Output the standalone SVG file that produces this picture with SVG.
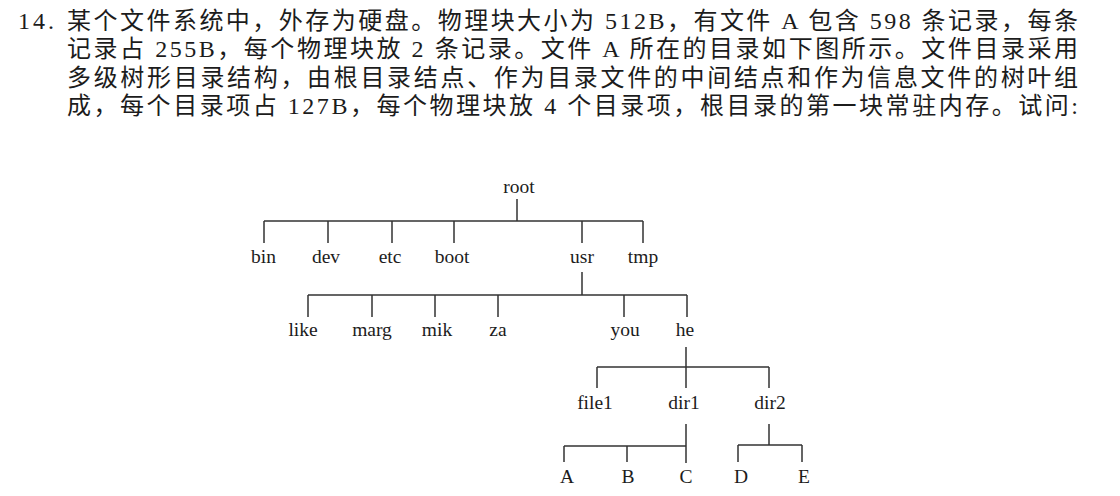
<svg xmlns="http://www.w3.org/2000/svg" width="1120" height="496" viewBox="0 0 1120 496">
<style>
  .para { font-family: "Liberation Serif", "Noto Sans CJK SC", serif; font-size: 24px; fill: #1c1c1c; }
  .lbl { font-family: "Liberation Serif", serif; font-size: 19.5px; fill: #1c1c1c; text-anchor: middle; }
  .conn { fill: none; stroke: #333; stroke-width: 1.5; }
</style>
<rect x="0" y="0" width="1120" height="496" fill="#ffffff"/>
<g id="question">
  <text class="para" x="18" y="29" letter-spacing="3">14.</text>
  <text class="para" x="67" y="29" textLength="1011" lengthAdjust="spacing">某个文件系统中，外存为硬盘。物理块大小为 512B，有文件 A 包含 598 条记录，每条</text>
  <text class="para" x="67" y="57" textLength="1011" lengthAdjust="spacing">记录占 255B，每个物理块放 2 条记录。文件 A 所在的目录如下图所示。文件目录采用</text>
  <text class="para" x="67" y="86" textLength="1011" lengthAdjust="spacing">多级树形目录结构，由根目录结点、作为目录文件的中间结点和作为信息文件的树叶组</text>
  <text class="para" x="67" y="114" textLength="1011" lengthAdjust="spacing">成，每个目录项占 127B，每个物理块放 4 个目录项，根目录的第一块常驻内存。试问:</text>
</g>
<g id="connectors">
  <path class="conn" d="M517 199V221M264 221H643M264 221V243M328 221V243M392 221V243M454 221V243M582 221V243M643 221V243"/>
  <path class="conn" d="M582 272V295M308 295H687M308 295V317M372 295V317M435 295V317M498 295V317M624 295V317M687 295V317"/>
  <path class="conn" d="M686 347V388M597 367H769M597 367V388M769 367V388"/>
  <path class="conn" d="M686 424V463M564 446H686M564 446V462M627 446V462"/>
  <path class="conn" d="M769 424V445M738 445H802M738 445V462M802 445V462"/>
</g>
<g id="node-root"><text class="lbl" x="519" y="193">root</text></g>
<g id="node-bin"><text class="lbl" x="263.5" y="263">bin</text></g>
<g id="node-dev"><text class="lbl" x="326" y="263">dev</text></g>
<g id="node-etc"><text class="lbl" x="390" y="263">etc</text></g>
<g id="node-boot"><text class="lbl" x="452" y="263">boot</text></g>
<g id="node-usr"><text class="lbl" x="582" y="263">usr</text></g>
<g id="node-tmp"><text class="lbl" x="643" y="263">tmp</text></g>
<g id="node-like"><text class="lbl" x="303" y="336">like</text></g>
<g id="node-marg"><text class="lbl" x="372" y="336">marg</text></g>
<g id="node-mik"><text class="lbl" x="437" y="336">mik</text></g>
<g id="node-za"><text class="lbl" x="498" y="336">za</text></g>
<g id="node-you"><text class="lbl" x="625" y="336">you</text></g>
<g id="node-he"><text class="lbl" x="685" y="336">he</text></g>
<g id="node-file1"><text class="lbl" x="595" y="409">file1</text></g>
<g id="node-dir1"><text class="lbl" x="684" y="409">dir1</text></g>
<g id="node-dir2"><text class="lbl" x="770" y="409">dir2</text></g>
<g id="node-A"><text class="lbl" x="567" y="483">A</text></g>
<g id="node-B"><text class="lbl" x="628" y="483">B</text></g>
<g id="node-C"><text class="lbl" x="686" y="483">C</text></g>
<g id="node-D"><text class="lbl" x="741" y="483">D</text></g>
<g id="node-E"><text class="lbl" x="804" y="483">E</text></g>
</svg>
